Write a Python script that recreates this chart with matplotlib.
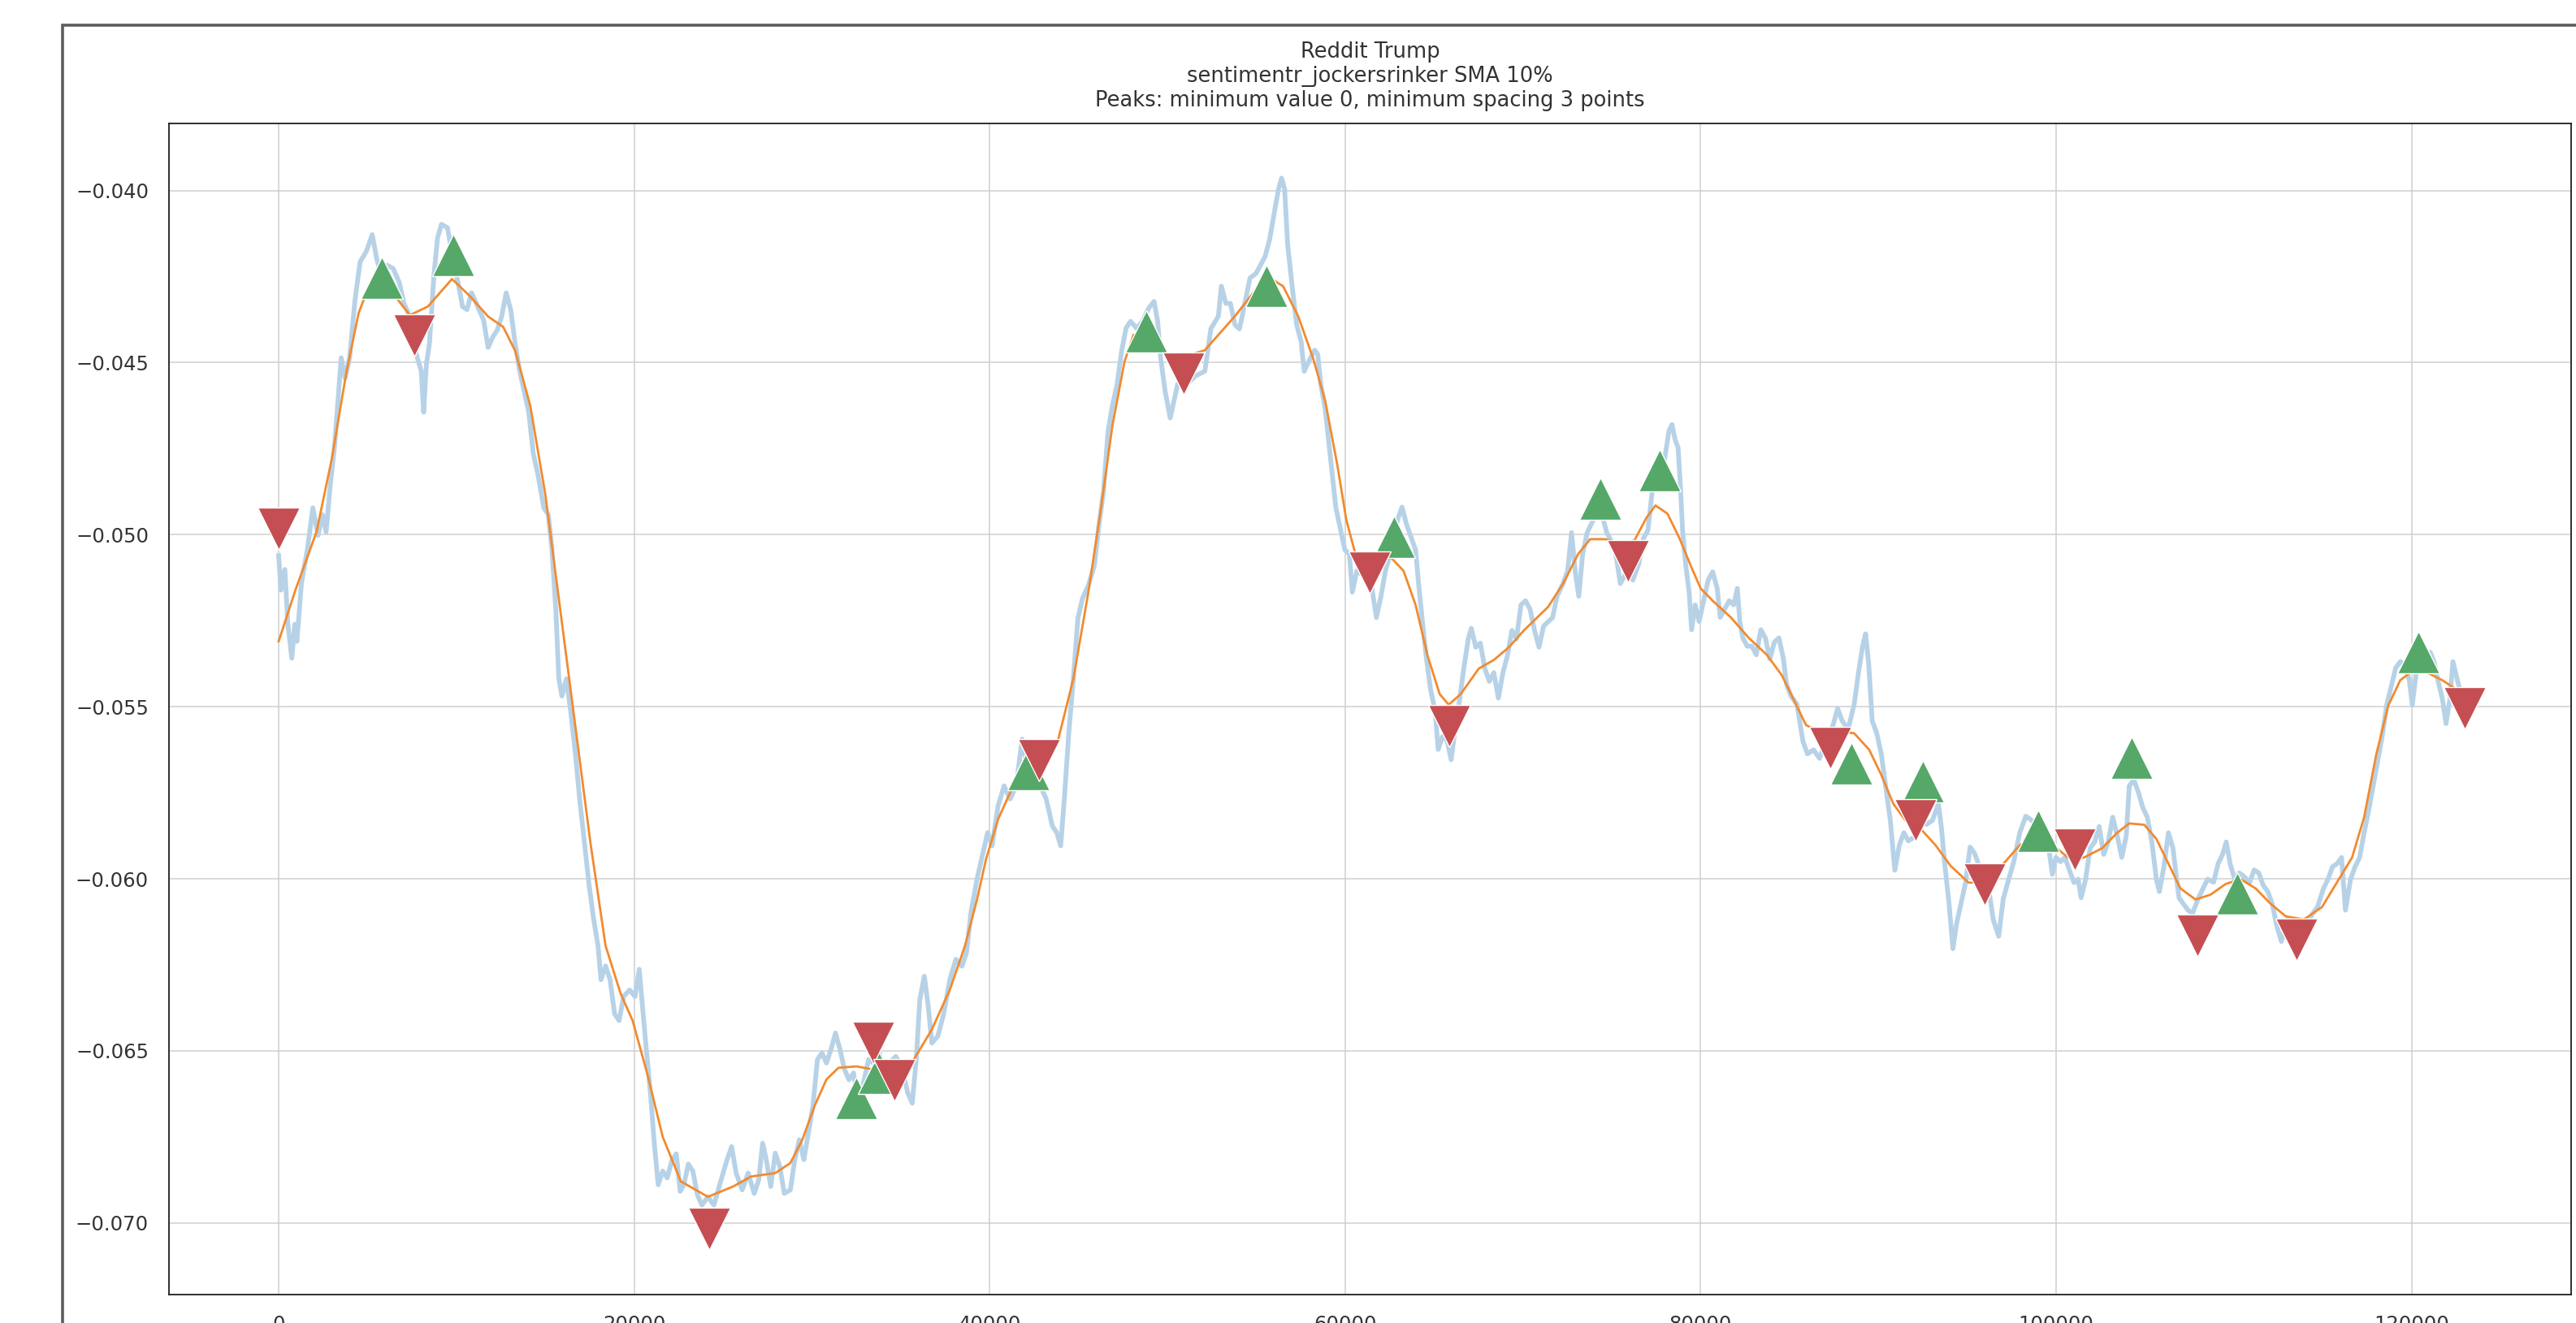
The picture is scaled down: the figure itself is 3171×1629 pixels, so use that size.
import matplotlib
matplotlib.use("Agg")
import numpy as np
import matplotlib.pyplot as plt
from matplotlib.patches import Rectangle

OUT_PNG = "out.png"

TITLE = ("Reddit Trump\n"
         "sentimentr_jockersrinker SMA 10%\n"
         "Peaks: minimum value 0, minimum spacing 3 points")

# raw SMA series (x = comment index, y = sentiment)
RAW_SMA = [
    (0, -0.05061), (130, -0.05161), (350, -0.05101), (519, -0.05260), (740, -0.05359),
    (909, -0.05260), (1028, -0.05310), (1282, -0.05141), (1620, -0.05042), (1925, -0.04922),
    (2213, -0.05002), (2467, -0.04942), (2671, -0.04992), (2891, -0.04863), (3145, -0.04744),
    (3348, -0.04605), (3518, -0.04486), (3738, -0.04545), (3992, -0.04486), (4297, -0.04317),
    (4585, -0.04207), (4924, -0.04178), (5263, -0.04128), (5517, -0.04198), (5771, -0.04247),
    (6110, -0.04217), (6449, -0.04227), (6787, -0.04267), (7041, -0.04327), (7295, -0.04356),
    (7549, -0.04436), (7804, -0.04486), (8024, -0.04525), (8159, -0.04644), (8312, -0.04505),
    (8481, -0.04446), (8735, -0.04247), (8938, -0.04138), (9159, -0.04098), (9498, -0.04108),
    (9836, -0.04207), (10090, -0.04267), (10344, -0.04337), (10599, -0.04346), (10853, -0.04297),
    (11192, -0.04337), (11531, -0.04376), (11784, -0.04456), (12039, -0.04426), (12293, -0.04406),
    (12547, -0.04366), (12801, -0.04297), (13055, -0.04346), (13309, -0.04446), (13563, -0.04525),
    (13817, -0.04585), (14071, -0.04644), (14325, -0.04764), (14580, -0.04823), (14918, -0.04922),
    (15172, -0.04942), (15376, -0.05042), (15596, -0.05220), (15765, -0.05419), (15935, -0.05469),
    (16189, -0.05419), (16443, -0.05518), (16697, -0.05637), (16951, -0.05776), (17205, -0.05896),
    (17459, -0.06015), (17713, -0.06114), (17967, -0.06194), (18137, -0.06293), (18391, -0.06253),
    (18645, -0.06293), (18899, -0.06392), (19153, -0.06412), (19407, -0.06342), (19746, -0.06323),
    (20051, -0.06342), (20287, -0.06263), (20457, -0.06362), (20677, -0.06491), (20932, -0.06631),
    (21135, -0.06769), (21356, -0.06889), (21610, -0.06849), (21864, -0.06869), (22118, -0.06819),
    (22372, -0.06799), (22592, -0.06908), (22795, -0.06889), (23050, -0.06829), (23304, -0.06849),
    (23558, -0.06918), (23812, -0.06948), (24151, -0.06924), (24489, -0.06948),
    (24892, -0.06875), (25231, -0.06816), (25485, -0.06778), (25739, -0.06855), (26078, -0.06904),
    (26417, -0.06855), (26755, -0.06914), (27009, -0.06875), (27230, -0.06768), (27433, -0.06816),
    (27687, -0.06894), (27941, -0.06797), (28195, -0.06836), (28449, -0.06914), (28788, -0.06904),
    (29042, -0.06816), (29296, -0.06758), (29550, -0.06816), (29804, -0.06739), (30058, -0.06661),
    (30313, -0.06525), (30567, -0.06506), (30821, -0.06535), (31075, -0.06496), (31329, -0.06448),
    (31583, -0.06496), (31837, -0.06554), (32091, -0.06584), (32345, -0.06564), (32650, -0.06661),
    (32938, -0.06584), (33192, -0.06525), (33447, -0.06535), (33785, -0.06506), (34040, -0.06564),
    (34378, -0.06535), (34717, -0.06516), (35056, -0.06545), (35395, -0.06622), (35649, -0.06652),
    (35873, -0.06525), (36073, -0.06351), (36327, -0.06283), (36547, -0.06370), (36750, -0.06477),
    (37089, -0.06457), (37427, -0.06390), (37766, -0.06292), (38105, -0.06234), (38444, -0.06254),
    (38698, -0.06215), (38952, -0.06098), (39291, -0.06001), (39630, -0.05924), (39884, -0.05866),
    (40138, -0.05904), (40477, -0.05788), (40816, -0.05730), (41154, -0.05768), (41493, -0.05730),
    (41832, -0.05594), (42171, -0.05691), (42679, -0.05710), (43187, -0.05768), (43526, -0.05846),
    (43780, -0.05866), (44000, -0.05904), (44204, -0.05768), (44458, -0.05574), (44712, -0.05419),
    (44966, -0.05244), (45221, -0.05186), (45560, -0.05147), (45898, -0.05089), (46152, -0.04972),
    (46407, -0.04875), (46661, -0.04701), (46915, -0.04623), (47169, -0.04565), (47423, -0.04468),
    (47677, -0.04400), (47931, -0.04380), (48270, -0.04400), (48609, -0.04380), (48947, -0.04342),
    (49252, -0.04322), (49456, -0.04380), (49624, -0.04487), (49878, -0.04584),
    (50161, -0.04661), (50584, -0.04562), (51092, -0.04562), (51600, -0.04538), (52109, -0.04525),
    (52447, -0.04402), (52871, -0.04365), (53040, -0.04278), (53294, -0.04328), (53549, -0.04328),
    (53803, -0.04390), (54057, -0.04402), (54311, -0.04340), (54650, -0.04254), (54989, -0.04241),
    (55497, -0.04192), (55751, -0.04143), (56005, -0.04068), (56259, -0.03995), (56428, -0.03964),
    (56598, -0.03995), (56767, -0.04155), (57021, -0.04278), (57275, -0.04390), (57529, -0.04439),
    (57699, -0.04525), (58038, -0.04488), (58292, -0.04464), (58461, -0.04476), (58631, -0.04562),
    (58885, -0.04636), (59223, -0.04797), (59477, -0.04920), (59731, -0.04982), (59986, -0.05044),
    (60240, -0.05056), (60409, -0.05167), (60663, -0.05105), (61002, -0.05118), (61256, -0.05142),
    (61510, -0.05155), (61764, -0.05241), (62019, -0.05179), (62273, -0.05105), (62611, -0.05044),
    (62950, -0.04957), (63204, -0.04920), (63458, -0.04970), (63713, -0.05007), (63967, -0.05044),
    (64136, -0.05142), (64305, -0.05229), (64559, -0.05352), (64814, -0.05451), (65068, -0.05512),
    (65237, -0.05624), (65491, -0.05586), (65745, -0.05599), (65966, -0.05654), (66169, -0.05574),
    (66423, -0.05488), (66677, -0.05389), (66931, -0.05303), (67101, -0.05272), (67355, -0.05327),
    (67609, -0.05315), (67863, -0.05389), (68117, -0.05426), (68371, -0.05401), (68625, -0.05475),
    (68879, -0.05401), (69133, -0.05352), (69387, -0.05278), (69642, -0.05303), (69896, -0.05204),
    (70150, -0.05192), (70404, -0.05216), (70658, -0.05278), (70912, -0.05327), (71166, -0.05266),
    (71420, -0.05253), (71674, -0.05241), (71928, -0.05179), (72267, -0.05142), (72521, -0.05105),
    (72742, -0.04994), (72945, -0.05105), (73148, -0.05179), (73368, -0.05056), (73622, -0.04994),
    (73961, -0.04957), (74215, -0.04932), (74469, -0.04945), (74723, -0.04994), (74978, -0.05019),
    (75232, -0.05056), (75486, -0.05142), (75740, -0.05118),
    (75854, -0.05084), (76193, -0.05132), (76531, -0.05084), (76785, -0.05011), (77040, -0.04987),
    (77294, -0.04867), (77463, -0.04807), (77717, -0.04867), (77971, -0.04783), (78225, -0.04698),
    (78395, -0.04680), (78564, -0.04723), (78734, -0.04747), (78852, -0.04843), (78988, -0.04987),
    (79157, -0.05084), (79360, -0.05168), (79496, -0.05276), (79699, -0.05204), (79919, -0.05252),
    (80173, -0.05192), (80428, -0.05132), (80682, -0.05108), (80936, -0.05156), (81105, -0.05240),
    (81359, -0.05216), (81613, -0.05192), (81867, -0.05204), (82071, -0.05156), (82206, -0.05252),
    (82376, -0.05300), (82630, -0.05324), (82884, -0.05324), (83138, -0.05349), (83392, -0.05276),
    (83646, -0.05300), (83900, -0.05361), (84154, -0.05312), (84408, -0.05300), (84663, -0.05361),
    (84832, -0.05433), (85086, -0.05469), (85425, -0.05493), (85764, -0.05601), (86018, -0.05637),
    (86357, -0.05625), (86695, -0.05650), (87034, -0.05601), (87458, -0.05553), (87712, -0.05505),
    (87966, -0.05541), (88305, -0.05565), (88643, -0.05493), (88897, -0.05397), (89118, -0.05324),
    (89287, -0.05288), (89457, -0.05373), (89660, -0.05541), (89914, -0.05577), (90168, -0.05637),
    (90422, -0.05734), (90676, -0.05830), (90930, -0.05975), (91184, -0.05902), (91438, -0.05866),
    (91693, -0.05890), (92031, -0.05878), (92370, -0.05818), (92709, -0.05842), (93048, -0.05830),
    (93387, -0.05782), (93556, -0.05854), (93725, -0.05950), (93979, -0.06071), (94199, -0.06203),
    (94403, -0.06131), (94657, -0.06071), (94911, -0.06011), (95165, -0.05908), (95419, -0.05926),
    (95673, -0.05962), (95927, -0.06023), (96232, -0.06035), (96470, -0.06119), (96775, -0.06167),
    (97029, -0.06059), (97283, -0.06011), (97622, -0.05950), (97960, -0.05866), (98299, -0.05818),
    (98638, -0.05830), (98977, -0.05854), (99316, -0.05890), (99570, -0.05902), (99790, -0.05987),
    (99993, -0.05938), (100247, -0.05950), (100501, -0.05938), (100756, -0.05975), (101010, -0.06011),
    (101242, -0.06001), (101411, -0.06055), (101665, -0.06001), (101919, -0.05911), (102173, -0.05893),
    (102427, -0.05848), (102682, -0.05929), (102936, -0.05893), (103190, -0.05821), (103444, -0.05875),
    (103698, -0.05938), (103952, -0.05875), (104121, -0.05730), (104376, -0.05712), (104630, -0.05748),
    (104884, -0.05793), (105138, -0.05821), (105392, -0.05893), (105646, -0.06001), (105815, -0.06037),
    (106070, -0.05965), (106324, -0.05866), (106578, -0.05911), (106747, -0.05983), (106917, -0.06055),
    (107171, -0.06073), (107425, -0.06091), (107679, -0.06100), (108018, -0.06055), (108272, -0.06028),
    (108526, -0.06001), (108865, -0.06010), (109119, -0.05956), (109373, -0.05929), (109576, -0.05893),
    (109796, -0.05956), (110050, -0.06001), (110305, -0.05983), (110559, -0.05992), (110897, -0.06010),
    (111151, -0.05974), (111406, -0.05983), (111660, -0.06019), (111914, -0.06037), (112168, -0.06073),
    (112422, -0.06137), (112676, -0.06182), (113015, -0.06118), (113269, -0.06164), (113523, -0.06182),
    (113777, -0.06155), (114116, -0.06127), (114455, -0.06100), (114709, -0.06082), (115048, -0.06028),
    (115302, -0.06001), (115556, -0.05965), (115810, -0.05956), (116064, -0.05938), (116284, -0.06091),
    (116572, -0.06001), (116826, -0.05965), (117080, -0.05938), (117334, -0.05866), (117588, -0.05802),
    (117843, -0.05730), (118097, -0.05658), (118351, -0.05586), (118605, -0.05495), (118859, -0.05441),
    (119113, -0.05387), (119367, -0.05369), (119621, -0.05378), (119876, -0.05423), (120045, -0.05495),
    (120299, -0.05387), (120553, -0.05369), (120807, -0.05351), (121061, -0.05342), (121264, -0.05369),
    (121484, -0.05423), (121739, -0.05477), (121942, -0.05549), (122162, -0.05477), (122331, -0.05369),
    (122501, -0.05405), (122671, -0.05441),
]

# smoothed curve used for the peak search
SMOOTH = [
    (0, -0.05310), (943, -0.05161), (2129, -0.04992), (2976, -0.04783), (3823, -0.04525),
    (4500, -0.04356), (5008, -0.04287), (5855, -0.04277), (6702, -0.04317), (7380, -0.04362),
    (8396, -0.04337), (9752, -0.04257), (10768, -0.04307), (11784, -0.04366), (12631, -0.04396),
    (13309, -0.04466), (14156, -0.04625), (15003, -0.04883), (15850, -0.05220), (16697, -0.05558),
    (17544, -0.05896), (18391, -0.06194), (19238, -0.06333), (19916, -0.06412), (20763, -0.06571),
    (21610, -0.06750), (22626, -0.06879), (24151, -0.06924), (25569, -0.06894), (26586, -0.06865),
    (27941, -0.06855), (28788, -0.06826), (29466, -0.06758), (30143, -0.06661), (30821, -0.06583),
    (31498, -0.06549), (32515, -0.06545), (33531, -0.06555), (34717, -0.06555), (35733, -0.06525),
    (36750, -0.06438), (37766, -0.06322), (38613, -0.06195), (39291, -0.06060), (39799, -0.05943),
    (40477, -0.05827), (41324, -0.05730), (42171, -0.05681), (43187, -0.05671), (43865, -0.05594),
    (44712, -0.05419), (45560, -0.05166), (46237, -0.04934), (46915, -0.04681), (47591, -0.04497),
    (48100, -0.04419), (48777, -0.04429), (49624, -0.04458), (50245, -0.04494), (52109, -0.04464),
    (53803, -0.04365), (55581, -0.04248), (56513, -0.04278), (57360, -0.04365), (58207, -0.04488),
    (58885, -0.04612), (59562, -0.04797), (60070, -0.04957), (60579, -0.05056), (61595, -0.05074),
    (62611, -0.05068), (63289, -0.05105), (63967, -0.05204), (64644, -0.05352), (65322, -0.05463),
    (65830, -0.05494), (66508, -0.05463), (67524, -0.05389), (68371, -0.05364), (69218, -0.05327),
    (70065, -0.05278), (71420, -0.05210), (72267, -0.05142), (73114, -0.05056), (73792, -0.05013),
    (74639, -0.05013), (75486, -0.05025), (76277, -0.05017), (76955, -0.04951), (77463, -0.04915),
    (78141, -0.04939), (78818, -0.05011), (79496, -0.05096), (80004, -0.05156), (80682, -0.05192),
    (81698, -0.05240), (82714, -0.05300), (83731, -0.05349), (84578, -0.05409), (85255, -0.05481),
    (85933, -0.05553), (86780, -0.05577), (87796, -0.05571), (88643, -0.05577), (89490, -0.05625),
    (90168, -0.05698), (90846, -0.05782), (91523, -0.05830), (92370, -0.05854), (93217, -0.05902),
    (94064, -0.05962), (95080, -0.06011), (95928, -0.06011), (96944, -0.05962), (97960, -0.05902),
    (98977, -0.05878), (99824, -0.05902), (100671, -0.05938), (101580, -0.05938), (102597, -0.05911),
    (103444, -0.05866), (104121, -0.05839), (104968, -0.05843), (105646, -0.05884), (106324, -0.05956),
    (107001, -0.06028), (107848, -0.06060), (108695, -0.06046), (109542, -0.06015), (110389, -0.06001),
    (111236, -0.06028), (112083, -0.06073), (112930, -0.06109), (113947, -0.06118), (114963, -0.06082),
    (115810, -0.06010), (116657, -0.05938), (117335, -0.05821), (118012, -0.05640), (118690, -0.05497),
    (119367, -0.05423), (120045, -0.05396), (120892, -0.05401), (121739, -0.05423), (122417, -0.05446),
]

PEAK_X = [5822, 9836, 32515, 33785, 42171, 48811, 55581, 62747,
          74385, 77683, 88474, 92489, 98977, 104257, 110186, 120384]
PEAK_Y = [-0.04253, -0.04188, -0.06638, -0.06564, -0.05681, -0.04409, -0.04278, -0.05007,
          -0.04895, -0.04813, -0.05664, -0.05716, -0.05860, -0.05649, -0.06042, -0.05342]

VALLEY_X = [0, 7634, 24235, 33447, 34666, 42797, 50923, 61392, 65864,
            75920, 87288, 92082, 95961, 101072, 107967, 113523, 123010]
VALLEY_Y = [-0.04982, -0.04422, -0.07018, -0.06477, -0.06584, -0.05656, -0.04531, -0.05111, -0.05556,
            -0.05077, -0.05619, -0.05830, -0.06017, -0.05915, -0.06164, -0.06177, -0.05505]

X_TICKS = [0, 20000, 40000, 60000, 80000, 100000, 120000]
Y_TICKS = [-0.070, -0.065, -0.060, -0.055, -0.050, -0.045, -0.040]

TEXT_COLOR = "#333333"


def gerar_grafico():
    plt.rcParams["font.family"] = ["DejaVu Sans"]
    fig = plt.figure(figsize=(31.71, 16.29), dpi=100, facecolor="white")
    ax = fig.add_axes([0.0656, 0.0215, 0.9325, 0.8852])

    raw_x, raw_y = np.array(RAW_SMA).T
    sm_x, sm_y = np.array(SMOOTH).T

    ax.plot(raw_x, raw_y, color="#b7d2e7", lw=4.2, solid_joinstyle="round", zorder=2)
    ax.plot(sm_x, sm_y, color="#f28a2e", lw=2.0, zorder=3)

    ax.plot(PEAK_X, PEAK_Y, ls="none", marker="^", ms=38, color="#55a868",
            mec="white", mew=1.0, zorder=4)
    ax.plot(VALLEY_X, VALLEY_Y, ls="none", marker="v", ms=38, color="#c44e52",
            mec="white", mew=1.0, zorder=5)

    ax.set_xlim(-6170, 128980)
    ax.set_ylim(-0.07208, -0.03805)
    ax.set_xticks(X_TICKS)
    ax.set_yticks(Y_TICKS)
    ax.set_yticklabels([f"\u2212{abs(v):.3f}" for v in Y_TICKS])

    ax.grid(True, color="#cfcfcf", lw=1.1)
    ax.set_axisbelow(True)
    ax.tick_params(axis="both", length=0, pad=18, labelsize=17.5, labelcolor=TEXT_COLOR)
    for sp in ax.spines.values():
        sp.set_color("#1e1e1e")
        sp.set_linewidth(1.3)

    ax.set_title(TITLE, fontsize=18.5, color=TEXT_COLOR, pad=15, linespacing=1.2)

    # grey frame around the whole output cell
    top = 1 - 30.5 / 1629
    fig.patches.append(Rectangle((77 / 3171, -0.5), 1.0, top + 0.5, transform=fig.transFigure,
                                 fill=False, ec="#5c5c5c", lw=2.6, zorder=10))

    fig.savefig(OUT_PNG, dpi=100, facecolor="white")
    plt.close(fig)


if __name__ == "__main__":
    gerar_grafico()
